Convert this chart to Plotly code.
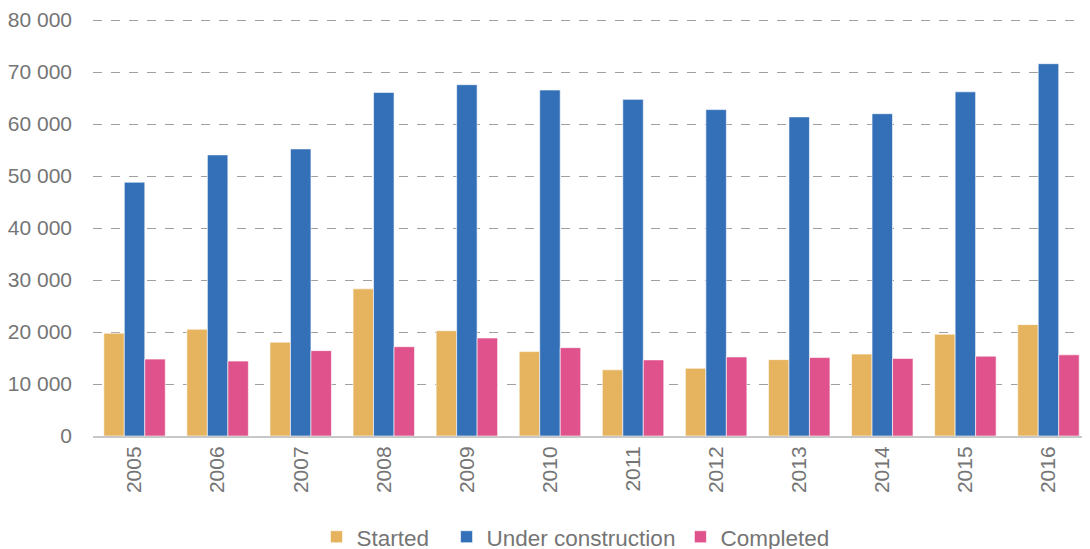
import plotly.graph_objects as go

years = ["2005", "2006", "2007", "2008", "2009", "2010",
         "2011", "2012", "2013", "2014", "2015", "2016"]
started = [19770, 20540, 18050, 28300, 20250, 16230,
           12720, 13030, 14690, 15750, 19580, 21420]
under_construction = [48820, 54070, 55220, 66090, 67570, 66550,
                      64750, 62780, 61380, 61990, 66200, 71610]
completed = [14790, 14410, 16420, 17180, 18850, 16990,
             14640, 15210, 15080, 14920, 15360, 15610]
y_ticks = [0, 10000, 20000, 30000, 40000, 50000, 60000, 70000, 80000]

GREY = "#757575"
NBSP = "\u00a0"

fig = go.Figure()
# the extra spaces just widen the gap after "Started" in the legend
for name, vals, color in [
    ("Started" + NBSP * 2, started, "#E6B35E"),
    ("Under construction", under_construction, "#3470B8"),
    ("Completed", completed, "#E0528B"),
]:
    fig.add_trace(go.Bar(
        x=years, y=vals, name=name,
        marker=dict(color=color, line=dict(color="rgba(255,255,255,0.6)", width=1)),
    ))

# page body has an 8px margin, so the figure is sized 8px smaller
fig.update_layout(
    width=1082, height=541,
    margin=dict(l=85, r=0, t=8, b=113),
    paper_bgcolor="white", plot_bgcolor="white",
    font=dict(family="Liberation Sans, Arial, sans-serif", size=21, color=GREY),
    barmode="group", bargap=0.26, bargroupgap=0,
    separators=". ",
    showlegend=True,
    legend=dict(
        orientation="h", xref="container", yref="container",
        x=0.5245, xanchor="center", y=0.022, yanchor="middle",
        font=dict(size=22.5, color=GREY), itemwidth=30,
        traceorder="normal",
    ),
    xaxis=dict(
        tickangle=-90, showgrid=False, ticks="",
        showline=True, linecolor="#c8c8c8", linewidth=2,
        tickfont=dict(size=21, color=GREY),
    ),
    yaxis=dict(
        range=[0, 80400], tickvals=y_ticks, tickformat=",d",
        showgrid=True, gridcolor="#a0a0a0", griddash="dash", gridwidth=1,
        zeroline=False, ticks="", ticklabelstandoff=20,
        ticklabeloverflow="allow",
        tickfont=dict(size=21, color=GREY),
    ),
)

fig.write_html("out.html")
